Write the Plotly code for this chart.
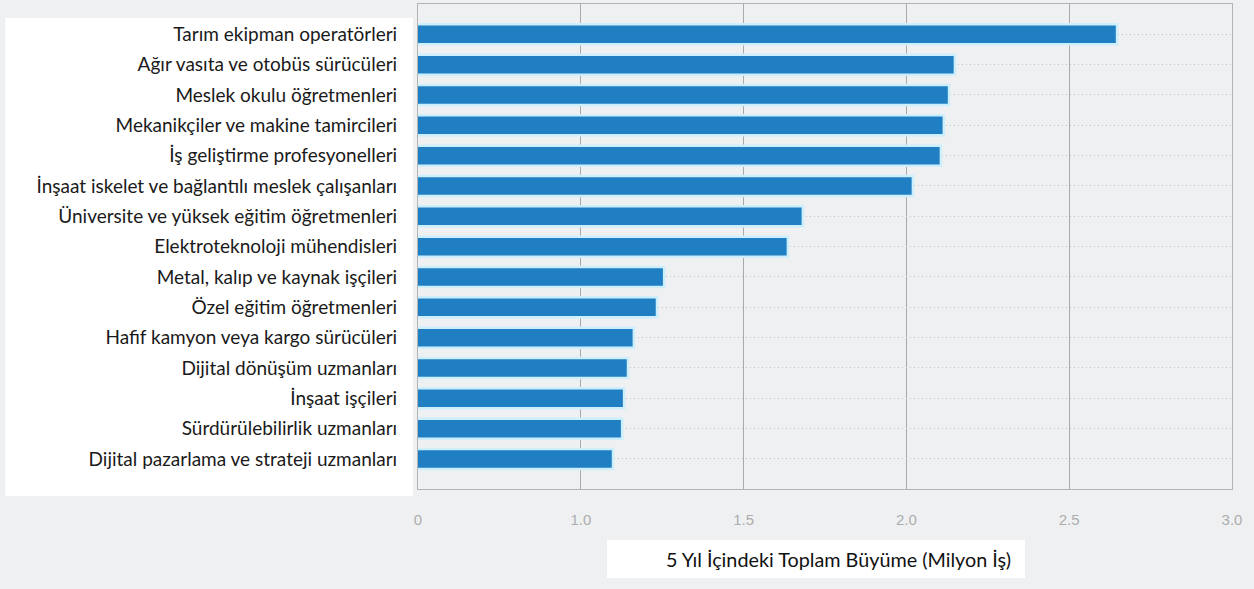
import plotly.graph_objects as go

categories = [
    "Tarım ekipman operatörleri",
    "Ağır vasıta ve otobüs sürücüleri",
    "Meslek okulu öğretmenleri",
    "Mekanikçiler ve makine tamircileri",
    "İş geliştirme profesyonelleri",
    "İnşaat iskelet ve bağlantılı meslek çalışanları",
    "Üniversite ve yüksek eğitim öğretmenleri",
    "Elektroteknoloji mühendisleri",
    "Metal, kalıp ve kaynak işçileri",
    "Özel eğitim öğretmenleri",
    "Hafif kamyon veya kargo sürücüleri",
    "Dijital dönüşüm uzmanları",
    "İnşaat işçileri",
    "Sürdürülebilirlik uzmanları",
    "Dijital pazarlama ve strateji uzmanları",
]
values = [2.647, 2.149, 2.131, 2.115, 2.106, 2.020, 1.682, 1.636,
          1.256, 1.234, 1.163, 1.145, 1.133, 1.127, 1.099]

tick_vals = [0.5, 1.0, 1.5, 2.0, 2.5, 3.0]
tick_text = ["0", "1.0", "1.5", "2.0", "2.5", "3.0"]
axis_title = "5 Yıl İçindeki Toplam Büyüme (Milyon İş)"

BG = "#eff0f2"
LABEL_FONT = "Lato, Open Sans, sans-serif"

fig = go.Figure(go.Bar(
    x=values, y=categories, orientation="h",
    marker=dict(color="#1f7fc2", line=dict(color="#cdeefc", width=2.5)),
    width=0.66,
))

fig.update_layout(
    width=1254, height=589,
    margin=dict(l=418, r=22, t=4, b=100),
    paper_bgcolor=BG, plot_bgcolor=BG,
    showlegend=False,
    font=dict(family=LABEL_FONT),
    xaxis=dict(
        range=[0.5, 3.0], tickvals=tick_vals, ticktext=tick_text,
        showgrid=True, gridcolor="#a9a9a9", gridwidth=1,
        showline=True, linecolor="#b3b3b3", mirror=True,
        zeroline=False, ticks="", ticklabelstandoff=17,
        tickfont=dict(family="Liberation Sans, Arial, sans-serif", size=15, color="#adadad"),
    ),
    yaxis=dict(
        type="category", categoryorder="array", categoryarray=categories,
        range=[14.99, -1.0],
        showgrid=True, gridcolor="#c2c2c2", gridwidth=1, griddash="1px,3px",
        showline=True, linecolor="#b3b3b3", mirror=True,
        ticks="", ticklabelstandoff=16,
        tickfont=dict(family=LABEL_FONT, size=19, color="#1a1a1a"),
    ),
    shapes=[
        dict(type="rect", xref="paper", yref="paper",
             x0=-0.507, x1=-0.006, y0=-0.0144, y1=0.971,
             fillcolor="white", line=dict(width=0), layer="below"),
        dict(type="rect", xref="paper", yref="paper",
             x0=0.2322, x1=0.7457, y0=-0.1835, y1=-0.1052,
             fillcolor="white", line=dict(width=0), layer="below"),
    ],
    annotations=[
        dict(text=axis_title, xref="paper", yref="paper",
             x=0.731, y=-0.1443, xanchor="right", yanchor="middle",
             showarrow=False,
             font=dict(family=LABEL_FONT, size=19.8, color="#111111")),
    ],
)

fig.write_html("out.html", config={"displayModeBar": False},
               post_script="document.body.style.margin='0';")
